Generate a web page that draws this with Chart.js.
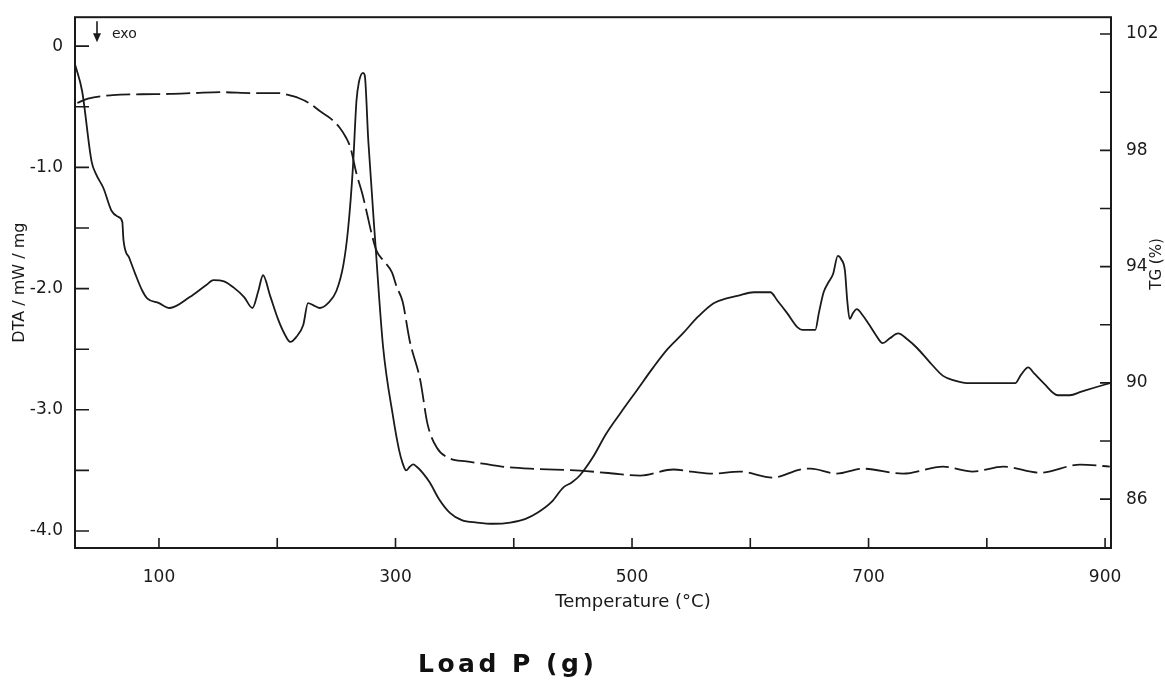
<!DOCTYPE html>
<html>
<head>
<meta charset="utf-8">
<script src="https://cdn.jsdelivr.net/npm/chart.js@4"></script>
<style>
  body { margin: 0; background: #fff; }
  #caja { position: relative; width: 1165px; height: 684px; }
  #titulo {
    position: absolute; left: 418px; top: 651px;
    font: bold 25px "DejaVu Sans", sans-serif; line-height: 1;
    letter-spacing: 3.5px; color: #111;
  }
</style>
</head>
<body>
<div id="caja">
  <canvas id="grafico" width="1165" height="684"></canvas>
  <div id="titulo">Load P (g)</div>
</div>
<script>
// DTA (curva continua, eje izquierdo)
const dtaTemp = [29, 35, 43, 47, 53, 60, 66, 69, 70, 75, 80, 86, 90, 100, 109, 126, 140, 146, 155, 163,
  172, 179, 184, 188, 194, 201, 206, 211, 216, 222, 226, 231, 236, 243, 250, 256, 260, 264, 267, 269,
  272.5, 274, 277, 283, 289.5, 298, 303, 306, 309, 312, 315, 318, 323, 329, 337, 346, 356, 369, 383, 397,
  410, 420, 432, 442, 449, 456, 467, 478, 490, 504, 518, 530, 543, 556, 569, 580, 589, 603, 617, 623,
  631, 640, 644, 651, 655, 658, 662, 666, 670, 674, 677, 680, 682, 684, 687, 690, 695, 700, 706, 712,
  718, 725, 733, 741, 752, 763, 773, 783, 800, 812, 824, 829, 835, 840, 848, 860, 870, 880, 890, 904];
const dtaValores = [-0.15, -0.37, -0.95, -1.06, -1.17, -1.36, -1.41, -1.45, -1.6, -1.75, -1.88, -2.02, -2.08, -2.12, -2.16, -2.07, -1.97, -1.93, -1.94, -1.99,
  -2.07, -2.16, -2.02, -1.89, -2.06, -2.26, -2.37, -2.44, -2.4, -2.3, -2.12, -2.14, -2.16, -2.12, -2.02, -1.8, -1.5, -1.0, -0.45, -0.3,
  -0.22, -0.24, -0.78, -1.63, -2.48, -3.06, -3.33, -3.44, -3.5, -3.47, -3.45, -3.47, -3.52, -3.6, -3.74, -3.85, -3.91, -3.93, -3.94, -3.93,
  -3.9, -3.85, -3.76, -3.64, -3.6, -3.54, -3.39, -3.2, -3.03, -2.84, -2.65, -2.5, -2.37, -2.23, -2.12, -2.08, -2.06, -2.03, -2.03, -2.1,
  -2.2, -2.32, -2.34, -2.34, -2.34, -2.2, -2.03, -1.95, -1.88, -1.73, -1.76, -1.85, -2.1, -2.25, -2.2, -2.17, -2.22, -2.29, -2.38, -2.45,
  -2.41, -2.37, -2.42, -2.49, -2.61, -2.72, -2.76, -2.78, -2.78, -2.78, -2.78, -2.71, -2.65, -2.7, -2.78, -2.88, -2.88, -2.85, -2.82, -2.78];

// TG (curva de trazos, eje derecho)
const tgTemp = [31, 40, 61, 85, 109, 130, 152, 180, 202, 208, 218, 228, 236, 245, 253, 258, 262, 267, 272, 276,
  280, 284, 290, 297, 301, 306, 312, 321, 327, 335, 346, 360, 374, 397, 420, 456, 480, 507, 535, 550,
  568, 591, 619, 642, 651, 673, 695, 729, 763, 788, 814, 845, 879, 904];
const tgValores = [99.63, 99.78, 99.9, 99.93, 99.94, 99.97, 100.0, 99.97, 99.97, 99.92, 99.8, 99.6, 99.35, 99.1, 98.77, 98.45, 98.08, 97.2, 96.5, 95.81,
  95.1, 94.54, 94.2, 93.8, 93.3, 92.8, 91.45, 90.08, 88.6, 87.77, 87.4, 87.3, 87.22, 87.09, 87.04, 86.98, 86.9, 86.81, 87.02, 86.95,
  86.88, 86.95, 86.74, 87.02, 87.05, 86.88, 87.05, 86.88, 87.12, 86.95, 87.12, 86.91, 87.19, 87.12];

// marcas de los ejes
const tempMarcas = [100, 200, 300, 400, 500, 600, 700, 800, 900];
const tempEtiquetas = ['100', '', '300', '', '500', '', '700', '', '900'];
const dtaMarcas = [0, -0.5, -1, -1.5, -2, -2.5, -3, -3.5, -4];
const dtaEtiquetas = ['0', '', '-1.0', '', '-2.0', '', '-3.0', '', '-4.0'];
const tgMarcas = [86, 88, 90, 92, 94, 96, 98, 100, 102];
const tgEtiquetas = ['86', '', '90', '', '94', '', '98', '', '102'];

const TINTA = '#1a1a1a';
const FUENTE = '"DejaVu Sans", sans-serif';

const marcasPlugin = {
  id: 'marcas',
  afterDraw(chart) {
    const { ctx, chartArea: a, scales } = chart;
    ctx.save();
    ctx.strokeStyle = TINTA;
    ctx.lineWidth = 2;
    ctx.strokeRect(a.left, a.top, a.right - a.left, a.bottom - a.top);

    // marcas hacia adentro
    ctx.lineWidth = 1.6;
    ctx.beginPath();
    dtaMarcas.forEach(v => {
      const y = scales.y.getPixelForValue(v);
      ctx.moveTo(a.left, y); ctx.lineTo(a.left + 14, y);
    });
    tgMarcas.forEach(v => {
      const y = scales.y1.getPixelForValue(v);
      ctx.moveTo(a.right, y); ctx.lineTo(a.right - 11, y);
    });
    tempMarcas.forEach(v => {
      const x = scales.x.getPixelForValue(v);
      ctx.moveTo(x, a.bottom); ctx.lineTo(x, a.bottom - 10);
    });
    ctx.stroke();

    // flecha "exo"
    const fx = a.left + 22;
    ctx.beginPath();
    ctx.moveTo(fx, a.top + 4); ctx.lineTo(fx, a.top + 20);
    ctx.stroke();
    ctx.fillStyle = TINTA;
    ctx.beginPath();
    ctx.moveTo(fx - 4, a.top + 16); ctx.lineTo(fx + 4, a.top + 16); ctx.lineTo(fx, a.top + 25);
    ctx.closePath();
    ctx.fill();
    ctx.font = '14px ' + FUENTE;
    ctx.textAlign = 'left';
    ctx.textBaseline = 'middle';
    ctx.fillText('exo', fx + 15, a.top + 17);

    // títulos del eje x y del eje derecho
    ctx.font = '18px ' + FUENTE;
    ctx.textAlign = 'center';
    ctx.fillText('Temperature (°C)', 633, 602);
    ctx.translate(1157, 264);
    ctx.rotate(-Math.PI / 2);
    ctx.font = '15px ' + FUENTE;
    ctx.fillText('TG (%)', 0, 0);
    ctx.restore();
  }
};

const ctx = document.getElementById('grafico').getContext('2d');
new Chart(ctx, {
  type: 'line',
  data: {
    datasets: [
      {
        label: 'DTA',
        data: dtaTemp.map((t, i) => ({ x: t, y: dtaValores[i] })),
        yAxisID: 'y',
        borderColor: TINTA,
        borderWidth: 1.8,
        pointRadius: 0,
        cubicInterpolationMode: 'monotone',
        fill: false
      },
      {
        label: 'TG',
        data: tgTemp.map((t, i) => ({ x: t, y: tgValores[i] })),
        yAxisID: 'y1',
        borderColor: TINTA,
        borderWidth: 1.8,
        borderDash: [24, 6],
        pointRadius: 0,
        cubicInterpolationMode: 'monotone',
        fill: false
      }
    ]
  },
  options: {
    responsive: false,
    animation: false,
    layout: { padding: { top: 16, left: 0, right: 0, bottom: 0 } },
    plugins: {
      legend: { display: false },
      tooltip: { enabled: false }
    },
    scales: {
      x: {
        type: 'linear',
        min: 29,
        max: 905,
        afterFit: s => { s.height = 136; },
        afterBuildTicks: s => { s.ticks = tempMarcas.map(v => ({ value: v })); },
        grid: { display: false },
        border: { display: false },
        ticks: {
          autoSkip: false,
          maxRotation: 0,
          padding: 11,
          color: TINTA,
          font: { size: 17, family: FUENTE },
          callback: v => tempEtiquetas[tempMarcas.indexOf(v)] ?? ''
        }
      },
      y: {
        position: 'left',
        min: -4.14,
        max: 0.239,
        afterFit: s => { s.width = 75; },
        afterBuildTicks: s => { s.ticks = dtaMarcas.map(v => ({ value: v })); },
        grid: { display: false },
        border: { display: false },
        title: {
          display: true,
          text: 'DTA / mW / mg',
          color: TINTA,
          font: { size: 16, family: FUENTE },
          padding: { top: 10, bottom: 0 }
        },
        ticks: {
          padding: 4,
          color: TINTA,
          font: { size: 17, family: FUENTE },
          callback: v => dtaEtiquetas[dtaMarcas.indexOf(v)] ?? ''
        }
      },
      y1: {
        position: 'right',
        min: 84.32,
        max: 102.58,
        afterFit: s => { s.width = 54; },
        afterBuildTicks: s => { s.ticks = tgMarcas.map(v => ({ value: v })); },
        grid: { display: false },
        border: { display: false },
        ticks: {
          padding: 7,
          color: TINTA,
          font: { size: 17, family: FUENTE },
          callback: v => tgEtiquetas[tgMarcas.indexOf(v)] ?? ''
        }
      }
    }
  },
  plugins: [marcasPlugin]
});
</script>
</body>
</html>
